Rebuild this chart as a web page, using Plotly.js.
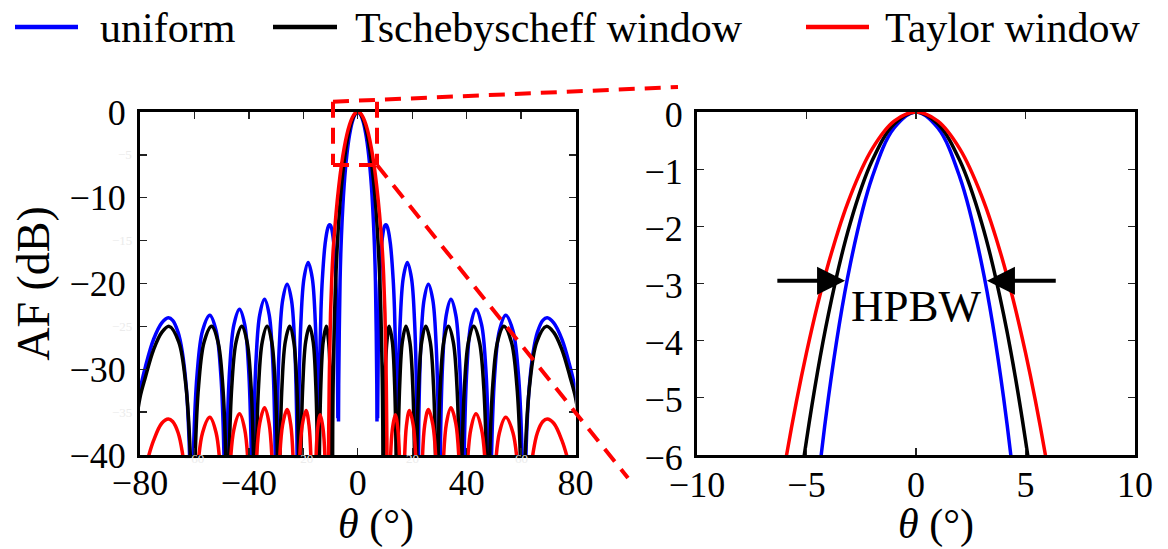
<!DOCTYPE html>
<html><head><meta charset="utf-8">
<script src="https://cdn.plot.ly/plotly-3.0.1.min.js"></script>
<style>html,body{margin:0;padding:0;background:#fff}#chart{width:1168px;height:549px}</style>
</head><body><div id="chart"></div>
<script>
// ---------- data (theta in degrees, AF in dB) ----------
const thetaUniform = [
 -82,-80,-78,-75,-72,-69.6,-68,-66,-64.5,-63,-62,-61.5,
 -61.04,-60.37,-59.03,-57.02,-54.34,-52.04,-50.32,-49.17,
 -48.59,-48.07,-47.04,-45.49,-43.43,-41.53,-40.11,-39.16,
 -38.68,-38.23,-37.34,-36.01,-34.23,-32.54,-31.27,-30.42,
 -30.0,-29.59,-28.78,-27.56,-25.94,-24.37,-23.2,-22.41,
 -22.02,-21.64,-20.88,-19.73,-18.21,-16.72,-15.6,-14.85,
 -14.48,-14.3,-14,-13.5,-13,-12,-11,-10.5,-10,-9,-8,-7.6,-7.3,
 -7.18,
 -7.07,-7,-6.5,-6,-5,-4,-3,-2,-1,0,1,2,3,4,5,6,6.5,7,7.07,
 7.18,
 7.3,7.6,8,9,10,10.5,11,12,13,13.5,14,14.3,
 14.48,14.85,15.6,16.72,18.21,19.73,20.88,21.64,
 22.02,22.41,23.2,24.37,25.94,27.56,28.78,29.59,
 30.0,30.42,31.27,32.54,34.23,36.01,37.34,38.23,
 38.68,39.16,40.11,41.53,43.43,45.49,47.04,48.07,
 48.59,49.17,50.32,52.04,54.34,57.02,59.03,60.37,
 61.04,61.5,62,63,64.5,66,68,69.6,72,75,78,80,82
];
const afUniform = [
 -36.4,-32.4,-29.7,-26.5,-24.6,-24.0,-24.3,-25.7,-27.9,-32.1,-38.0,-44.3,
 -60,-39.8,-30.6,-25.5,-23.7,-25.5,-30.6,-39.8,
 -60,-39.1,-29.9,-24.8,-23.0,-24.8,-29.9,-39.1,
 -60,-37.95,-28.75,-23.65,-21.85,-23.65,-28.75,-37.95,
 -60,-36.2,-27.0,-21.9,-20.1,-21.9,-27.0,-36.2,
 -60,-33.65,-24.45,-19.35,-17.55,-19.35,-24.45,-33.65,
 -60,-38.1,-29.4,-23.0,-19.47,-15.4,-13.52,-13.17,-13.23,-14.77,-19.96,-25.2,-35.7,
 null,
 -36.1,-31.8,-19.7,-14.5,-8.57,-5.0,-2.66,-1.14,-0.28,0,-0.28,-1.14,-2.66,-5.0,-8.57,-14.5,-19.7,-31.8,-36.1,
 null,
 -35.7,-25.2,-19.96,-14.77,-13.23,-13.17,-13.52,-15.4,-19.47,-23.0,-29.4,-38.1,
 -60,-33.65,-24.45,-19.35,-17.55,-19.35,-24.45,-33.65,
 -60,-36.2,-27.0,-21.9,-20.1,-21.9,-27.0,-36.2,
 -60,-37.95,-28.75,-23.65,-21.85,-23.65,-28.75,-37.95,
 -60,-39.1,-29.9,-24.8,-23.0,-24.8,-29.9,-39.1,
 -60,-39.8,-30.6,-25.5,-23.7,-25.5,-30.6,-39.8,
 -60,-44.3,-38.0,-32.1,-27.9,-25.7,-24.3,-24.0,-24.6,-26.5,-29.7,-32.4,-36.4
];

const thetaCheb = [
 -82,-80,-78,-75,-72,-69.3,-65.78,-63.14,-61.38,
 -60.5,-59.82,-58.46,-56.42,-53.7,-51.35,-49.59,-48.42,
 -47.83,-47.31,-46.26,-44.69,-42.6,-40.67,-39.22,-38.25,
 -37.77,-37.32,-36.43,-35.09,-33.3,-31.6,-30.33,-29.48,
 -29.05,-28.64,-27.83,-26.62,-25.0,-23.51,-22.39,-21.64,
 -21.27,-20.91,-20.2,-19.13,-17.71,-16.39,-15.41,-14.75,
 -14.42,-14.13,-13.56,-12.7,-11.55,-10.71,-10.07,-9.65,
 -9.44,-9.2,-9,-8.5,-8,-7,-6,-5,-4,-3,-2,-1,0,1,2,3,4,5,6,7,8,8.5,9,9.2,9.44,
 9.65,10.07,10.71,11.55,12.7,13.56,14.13,
 14.42,14.75,15.41,16.39,17.71,19.13,20.2,20.91,
 21.27,21.64,22.39,23.51,25.0,26.62,27.83,28.64,
 29.05,29.48,30.33,31.6,33.3,35.09,36.43,37.32,
 37.77,38.25,39.22,40.67,42.6,44.69,46.26,47.31,
 47.83,48.42,49.59,51.35,53.7,56.42,58.46,59.82,
 60.5,61.38,63.14,65.78,69.3,72,75,78,80,82
];
const afCheb = [
 -37.6,-33.3,-30.9,-27.7,-25.7,-25,-26.8,-31.9,-41.1,
 -60,-41.1,-31.9,-26.8,-25,-26.8,-31.9,-41.1,
 -60,-41.1,-31.9,-26.8,-25,-26.8,-31.9,-41.1,
 -60,-41.1,-31.9,-26.8,-25,-26.8,-31.9,-41.1,
 -60,-41.1,-31.9,-26.8,-25,-26.8,-31.9,-41.1,
 -60,-41.1,-31.9,-26.8,-25,-26.8,-31.9,-41.1,
 -60,-41.1,-31.9,-26.8,-25,-26.8,-31.0,-41.1,
 -60,-36.7,-31.0,-23.4,-18.81,-12.78,-8.71,-5.74,-3.54,-1.94,-0.85,-0.21,0,-0.21,-0.85,-1.94,-3.54,-5.74,-8.71,-12.78,-18.81,-23.4,-31.0,-36.7,-60,
 -41.1,-31.0,-26.8,-25,-26.8,-31.9,-41.1,
 -60,-41.1,-31.9,-26.8,-25,-26.8,-31.9,-41.1,
 -60,-41.1,-31.9,-26.8,-25,-26.8,-31.9,-41.1,
 -60,-41.1,-31.9,-26.8,-25,-26.8,-31.9,-41.1,
 -60,-41.1,-31.9,-26.8,-25,-26.8,-31.9,-41.1,
 -60,-41.1,-31.9,-26.8,-25,-26.8,-31.9,-41.1,
 -60,-41.1,-31.9,-26.8,-25,-25.7,-27.7,-30.9,-33.3,-37.6
];

const thetaTaylor = [
 -82,-80,-78,-75,-72,-69.6,-68,-66,-64.5,-63,-62,
 -61.04,-60.37,-59.03,-57.02,-54.34,-52.04,-50.32,-49.17,
 -48.59,-48.07,-47.04,-45.49,-43.43,-41.53,-40.11,-39.16,
 -38.68,-38.23,-37.34,-36.01,-34.23,-32.59,-31.35,-30.53,
 -30.12,-29.7,-28.87,-27.61,-25.94,-24.6,-23.6,-22.93,
 -22.6,-22.24,-21.51,-20.42,-18.97,-17.88,-17.06,-16.51,
 -16.24,-16.0,-15.51,-14.78,-13.8,-12.68,-11.84,-11.28,
 -11.0,-10.7,-10.4,-10,-9.5,-9,-8,-7,-6,-5,-4,-3,-2,-1,0,1,2,3,4,5,6,7,8,9,9.5,10,10.4,10.7,11.0,
 11.28,11.84,12.68,13.8,14.78,15.51,16.0,
 16.24,16.51,17.06,17.88,18.97,20.42,21.51,22.24,
 22.6,22.93,23.6,24.6,25.94,27.61,28.87,29.7,
 30.12,30.53,31.35,32.59,34.23,36.01,37.34,38.23,
 38.68,39.16,40.11,41.53,43.43,45.49,47.04,48.07,
 48.59,49.17,50.32,52.04,54.34,57.02,59.03,60.37,
 61.04,62,63,64.5,66,68,69.6,72,75,78,80,82
];
const afTaylor = [
 -48,-44.4,-41.5,-38.3,-36.3,-35.8,-36.1,-37.4,-39.6,-43.9,-49.7,
 -60,-51.7,-42.5,-37.4,-35.6,-37.4,-42.5,-51.7,
 -60,-51.3,-42.1,-37.0,-35.2,-37.0,-42.1,-51.3,
 -60,-50.6,-41.4,-36.3,-34.5,-36.3,-41.4,-50.6,
 -60,-50.8,-41.6,-36.5,-34.7,-36.5,-41.6,-50.8,
 -60,-50.9,-41.7,-36.6,-34.8,-36.6,-41.7,-50.9,
 -60,-51.4,-42.2,-37.1,-35.3,-37.1,-42.2,-51.4,
 -60,-38,-30,-23.5,-19.0,-16.0,-11.9,-8.74,-6.2,-4.21,-2.65,-1.47,-0.645,-0.16,0,-0.16,-0.645,-1.47,-2.65,-4.21,-6.2,-8.74,-11.9,-16.0,-19.0,-23.5,-30,-38,-60,
 -51.4,-42.2,-37.1,-35.3,-37.1,-42.2,-51.4,
 -60,-50.9,-41.7,-36.6,-34.8,-36.6,-41.7,-50.9,
 -60,-50.8,-41.6,-36.5,-34.7,-36.5,-41.6,-50.8,
 -60,-50.6,-41.4,-36.3,-34.5,-36.3,-41.4,-50.6,
 -60,-51.3,-42.1,-37.0,-35.2,-37.0,-42.1,-51.3,
 -60,-51.7,-42.5,-37.4,-35.6,-37.4,-42.5,-51.7,
 -60,-49.7,-43.9,-39.6,-37.4,-36.1,-35.8,-36.3,-38.3,-41.5,-44.4,-48
];

const seriesNames = ['uniform', 'Tschebyscheff window', 'Taylor window'];
const seriesColors = ['#0000ff', '#000000', '#ff0000'];

const leftXTicks = [-80,-60,-40,-20,0,20,40,60,80];
const leftXLabels = ['\u221280','','\u221240','','0','','40','','80'];
const leftYTicks = [-40,-35,-30,-25,-20,-15,-10,-5,0];
const leftYLabels = ['\u221240','','\u221230','','\u221220','','\u221210','','0'];
const rightXTicks = [-10,-5,0,5,10];
const rightXLabels = ['\u221210','\u22125','0','5','10'];
const rightYTicks = [-6,-5,-4,-3,-2,-1,0];
const rightYLabels = ['\u22126','\u22125','\u22124','\u22123','\u22122','\u22121','0'];
const ghostXTicks = [-60,-20,20,60];
const ghostXLabels = ['\u221260','\u221220','20','60'];
const ghostYTicks = [-5,-15,-25,-35];
const ghostYLabels = ['\u22125','\u221215','\u221225','\u221235'];
const xTitle = '<i>\u03b8</i> (\u00b0)';
const yTitle = 'AF (dB)';

// ---------- layout geometry (pixels) ----------
const W = 1168, H = 549, ML = 140, MR = 33, MT = 112, MB = 94;
const PW = W - ML - MR, PH = H - MT - MB;
const px = v => (v - ML) / PW;
const py = v => (H - MB - v) / PH;
const FONT = '"Liberation Serif", "Times New Roman", serif';

const xs = [thetaUniform, thetaCheb, thetaTaylor];
const ys = [afUniform, afCheb, afTaylor];
const traces = [];
[['x','y'],['x2','y2']].forEach(([xa, ya]) => {
  for (let i = 0; i < 3; i++) {
    traces.push({
      x: xs[i], y: ys[i], xaxis: xa, yaxis: ya, name: seriesNames[i],
      type: 'scatter', mode: 'lines', showlegend: false, hoverinfo: 'skip',
      line: {color: seriesColors[i], width: 3.5, shape: 'spline'}
    });
  }
});

const axisBase = {
  showline: true, linewidth: 3, linecolor: '#000', mirror: 'ticks',
  ticks: 'inside', ticklen: 7, tickwidth: 1.3, tickcolor: '#222',
  showgrid: false, zeroline: false, tickmode: 'array',
  tickfont: {family: FONT, size: 36, color: '#000'}
};
const titleFont = {family: FONT, size: 42, color: '#000'};

const layout = {
  width: W, height: H, paper_bgcolor: '#fff', plot_bgcolor: '#fff',
  margin: {l: ML, r: MR, t: MT, b: MB, pad: 0},
  showlegend: false,
  xaxis: Object.assign({}, axisBase, {
    domain: [0, px(575.5)], range: [-80, 80], anchor: 'y',
    tickvals: leftXTicks, ticktext: leftXLabels, ticklabelstandoff: -6
  }),
  yaxis: Object.assign({}, axisBase, {
    domain: [0, 1], range: [-40, 0], anchor: 'x',
    tickvals: leftYTicks, ticktext: leftYLabels, ticklabelstandoff: 4,
    title: {text: yTitle, font: {family: FONT, size: 46, color: '#000'}, standoff: 6}
  }),
  xaxis2: Object.assign({}, axisBase, {
    domain: [px(697), 1], range: [-10, 10], anchor: 'y2',
    tickvals: rightXTicks, ticktext: rightXLabels, ticklabelstandoff: -4
  }),
  yaxis2: Object.assign({}, axisBase, {
    domain: [0, 1], range: [-6, 0], anchor: 'x2',
    tickvals: rightYTicks, ticktext: rightYLabels, ticklabelstandoff: 4, ticklabelshift: 2
  }),
  shapes: [],
  annotations: []
};

// x-axis titles (placed where the original has them, right of centre)
layout.annotations.push({xref: 'paper', yref: 'paper', x: px(376), y: py(524),
  xanchor: 'center', yanchor: 'middle', text: xTitle, showarrow: false, font: titleFont});
layout.annotations.push({xref: 'paper', yref: 'paper', x: px(936), y: py(524),
  xanchor: 'center', yanchor: 'middle', text: xTitle, showarrow: false, font: titleFont});

// legend (drawn by hand to match positions)
const legendItems = [
  {x0: 15, x1: 78, tx: 98},
  {x0: 273, x1: 337, tx: 353},
  {x0: 806, x1: 869, tx: 883}
];
legendItems.forEach((it, i) => {
  layout.shapes.push({type: 'line', xref: 'paper', yref: 'paper',
    x0: px(it.x0), x1: px(it.x1), y0: py(27), y1: py(27),
    line: {color: seriesColors[i], width: 4.5}});
  layout.annotations.push({xref: 'paper', yref: 'paper', x: px(it.tx), y: py(28),
    xanchor: 'left', yanchor: 'middle', showarrow: false, text: seriesNames[i],
    font: {family: FONT, size: 42, color: '#000'}});
});

// zoom indicator (dashed red box + connectors)
const dash = {color: '#ff0000', width: 4, dash: '16px,10px'};
const seg = (a, b, c, d) => ({type: 'line', xref: 'paper', yref: 'paper',
  x0: px(a), y0: py(b), x1: px(c), y1: py(d), line: dash});
layout.shapes.push(seg(333, 101.7, 333, 165));
layout.shapes.push(seg(333, 165, 377, 165));
layout.shapes.push(seg(377, 101.7, 377, 165));
layout.shapes.push(seg(333, 101.7, 678, 87));
layout.shapes.push(seg(377, 165, 628, 478));

// HPBW arrows and label
layout.annotations.push({xref: 'x2', yref: 'y2', axref: 'x2', ayref: 'y2',
  x: -3.24, y: -2.95, ax: -6.4, ay: -2.95, text: '', showarrow: true,
  arrowhead: 2, arrowsize: 1.4, arrowwidth: 4, arrowcolor: '#000'});
layout.annotations.push({xref: 'x2', yref: 'y2', axref: 'x2', ayref: 'y2',
  x: 3.24, y: -2.95, ax: 6.45, ay: -2.95, text: '', showarrow: true,
  arrowhead: 2, arrowsize: 1.4, arrowwidth: 4, arrowcolor: '#000'});
layout.annotations.push({xref: 'x2', yref: 'y2', x: 0, y: -3.39, text: 'HPBW',
  showarrow: false, font: {family: FONT, size: 45, color: '#000'}});

// faint ghost labels visible in the original
ghostXTicks.forEach((v, i) => layout.annotations.push({xref: 'x', yref: 'paper',
  x: v, y: py(468), text: ghostXLabels[i], showarrow: false,
  font: {family: FONT, size: 13, color: '#ebebeb'}}));
ghostYTicks.forEach((v, i) => layout.annotations.push({xref: 'paper', yref: 'y',
  x: px(134), y: v, xanchor: 'right', text: ghostYLabels[i], showarrow: false,
  font: {family: FONT, size: 13, color: '#ebebeb'}}));

Plotly.newPlot('chart', traces, layout, {staticPlot: true, displayModeBar: false});
</script>
</body></html>
